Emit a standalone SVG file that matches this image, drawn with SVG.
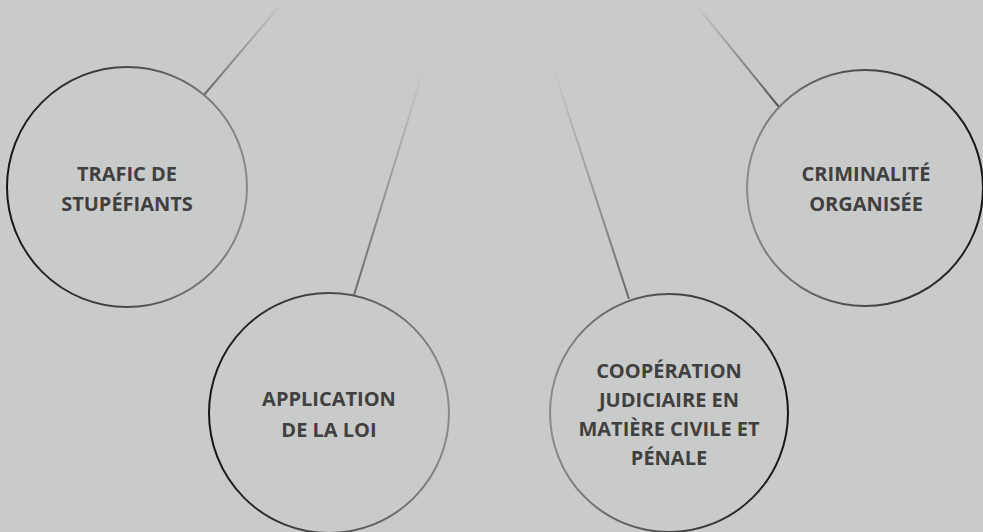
<svg xmlns="http://www.w3.org/2000/svg" width="983" height="532" viewBox="0 0 983 532">
<defs>
<style>
.node circle{fill:none;stroke-width:2}
.node text{font-family:"Open Sans","Liberation Sans",Arial,sans-serif;font-weight:700;font-size:20px;fill:#404040;text-anchor:middle}
.conn line{stroke-width:2;fill:none}
</style>
<linearGradient id="gDarkLeft" x1="0" y1="0.5" x2="1" y2="0.5">
<stop offset="0" stop-color="#151515"/>
<stop offset="0.5" stop-color="#4a4a4a"/>
<stop offset="1" stop-color="#8a8a8a"/>
</linearGradient>
<linearGradient id="gDarkRight" x1="0" y1="0.5" x2="1" y2="0.5">
<stop offset="0" stop-color="#8a8a8a"/>
<stop offset="0.5" stop-color="#4a4a4a"/>
<stop offset="1" stop-color="#151515"/>
</linearGradient>
<linearGradient id="l1" gradientUnits="userSpaceOnUse" x1="204" y1="95" x2="283" y2="2">
<stop offset="0" stop-color="#6a6a6a"/>
<stop offset="1" stop-color="#c9cbca"/>
</linearGradient>
<linearGradient id="l2" gradientUnits="userSpaceOnUse" x1="354" y1="295" x2="424" y2="68">
<stop offset="0" stop-color="#6a6a6a"/>
<stop offset="1" stop-color="#c9cbca"/>
</linearGradient>
<linearGradient id="l3" gradientUnits="userSpaceOnUse" x1="629" y1="299" x2="553" y2="67">
<stop offset="0" stop-color="#6a6a6a"/>
<stop offset="1" stop-color="#c9cbca"/>
</linearGradient>
<linearGradient id="l4" gradientUnits="userSpaceOnUse" x1="779" y1="107" x2="697" y2="6">
<stop offset="0" stop-color="#555555"/>
<stop offset="1" stop-color="#c9cbca"/>
</linearGradient>
</defs>
<rect width="983" height="532" fill="#c9cbca"/>
<g id="connectors" class="conn">
<line x1="204" y1="95" x2="283" y2="2" stroke="url(#l1)"/>
<line x1="354" y1="295" x2="424" y2="68" stroke="url(#l2)"/>
<line x1="629" y1="299" x2="553" y2="67" stroke="url(#l3)"/>
<line x1="779" y1="107" x2="697" y2="6" stroke="url(#l4)"/>
</g>
<g id="node-trafic" class="node">
<circle cx="127" cy="187" r="120" stroke="url(#gDarkLeft)"/>
<text x="127" y="181">TRAFIC DE</text>
<text x="127" y="211">STUPÉFIANTS</text>
</g>
<g id="node-application" class="node">
<circle cx="329" cy="413" r="120" stroke="url(#gDarkLeft)"/>
<text x="329" y="406">APPLICATION</text>
<text x="329" y="437">DE LA LOI</text>
</g>
<g id="node-cooperation" class="node">
<circle cx="669" cy="413" r="119" stroke="url(#gDarkRight)"/>
<text x="669" y="378">COOPÉRATION</text>
<text x="669" y="407">JUDICIAIRE EN</text>
<text x="669" y="436">MATIÈRE CIVILE ET</text>
<text x="669" y="465">PÉNALE</text>
</g>
<g id="node-criminalite" class="node">
<circle cx="865" cy="188" r="118" stroke="url(#gDarkRight)"/>
<text x="866" y="181">CRIMINALITÉ</text>
<text x="866" y="211">ORGANISÉE</text>
</g>
</svg>
